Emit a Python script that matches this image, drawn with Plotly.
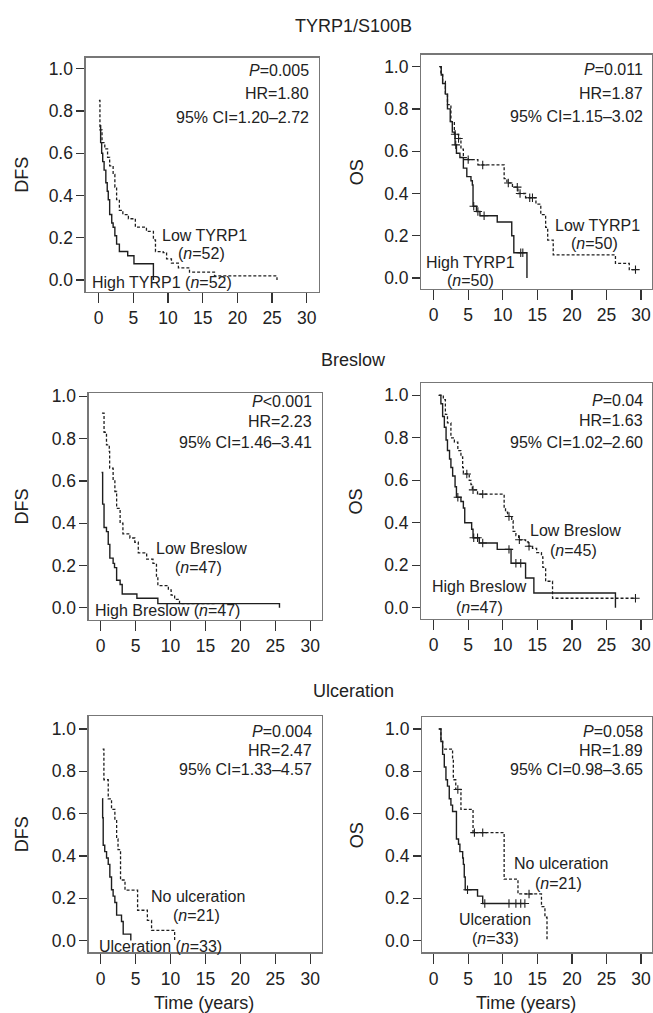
import numpy as np
import plotly.graph_objects as go

# ---------------- data ----------------
# Panel 1: DFS, TYRP1/S100B
p1_high_t = [0.2, 0.3, 0.45, 0.6, 0.8, 1.05, 1.25, 1.4, 1.6, 1.9, 2.1, 2.35, 2.6, 3.0, 4.2, 5.1, 7.9]
p1_high_s = [0.73, 0.65, 0.60, 0.56, 0.52, 0.46, 0.42, 0.38, 0.31, 0.27, 0.25, 0.21, 0.17, 0.135, 0.115, 0.077, 0.0]
p1_high_c = []
p1_low_t = [0.05, 0.2, 0.5, 0.9, 1.3, 1.6, 2.1, 2.35, 2.6, 3.0, 3.5, 4.3, 5.3, 6.9, 7.9, 8.2, 9.3, 9.8, 10.5, 11.5, 13.1, 16.7, 25.7]
p1_low_s = [0.85, 0.71, 0.65, 0.62, 0.58, 0.54, 0.50, 0.44, 0.38, 0.33, 0.31, 0.29, 0.25, 0.23, 0.19, 0.135, 0.13, 0.10, 0.08, 0.058, 0.038, 0.02, 0.0]
p1_low_c = []

# Panel 2: OS, TYRP1/S100B
p2_high_t = [0.8, 1.1, 1.3, 1.7, 2.0, 2.4, 2.7, 3.1, 3.3, 3.8, 4.3, 4.8, 5.4, 5.6, 5.7, 6.2, 6.7, 9.2, 11.3, 11.6, 13.5]
p2_high_s = [1.0, 0.96, 0.92, 0.87, 0.80, 0.74, 0.69, 0.63, 0.59, 0.57, 0.52, 0.48, 0.46, 0.44, 0.34, 0.315, 0.295, 0.265, 0.20, 0.12, 0.0]
p2_high_c = [3.2, 5.8, 6.4, 7.3, 12.6, 12.9]
p2_low_t = [0.9, 1.05, 1.3, 1.7, 2.0, 2.5, 3.0, 3.6, 3.95, 4.3, 5.0, 6.4, 10.2, 10.6, 11.4, 12.2, 13.3, 14.8, 15.5, 16.2, 16.5, 17.3, 26.3, 28.3, 29.2]
p2_low_s = [1.0, 0.97, 0.93, 0.87, 0.82, 0.74, 0.68, 0.66, 0.61, 0.57, 0.56, 0.535, 0.47, 0.45, 0.43, 0.40, 0.38, 0.35, 0.30, 0.24, 0.18, 0.11, 0.07, 0.04, 0.04]
p2_low_c = [3.1, 3.6, 5.0, 7.1, 10.8, 12.1, 12.5, 13.9, 14.3, 29.2]

# Panel 3: DFS, Breslow
p3_high_t = [0.15, 0.3, 0.5, 0.85, 1.1, 1.33, 1.8, 2.0, 2.3, 2.8, 3.1, 5.2, 8.2, 25.6]
p3_high_s = [0.64, 0.49, 0.38, 0.36, 0.30, 0.235, 0.21, 0.19, 0.13, 0.11, 0.065, 0.045, 0.02, 0.0]
p3_high_c = []
p3_low_t = [0.2, 0.5, 0.85, 1.25, 1.3, 1.8, 2.05, 2.3, 2.8, 3.2, 4.2, 4.9, 5.4, 6.6, 7.5, 8.0, 8.2, 9.7, 10.1, 10.6, 11.3, 16.5]
p3_low_s = [0.92, 0.83, 0.77, 0.74, 0.66, 0.60, 0.55, 0.47, 0.40, 0.35, 0.33, 0.31, 0.26, 0.23, 0.21, 0.15, 0.105, 0.085, 0.06, 0.04, 0.02, 0.02]
p3_low_c = []

# Panel 4: OS, Breslow
p4_high_t = [0.8, 1.05, 1.3, 1.55, 1.8, 2.0, 2.3, 2.5, 2.75, 3.1, 3.3, 3.95, 4.3, 4.5, 5.5, 5.7, 6.6, 9.2, 11.2, 13.3, 14.5, 26.3]
p4_high_s = [1.0, 0.96, 0.90, 0.85, 0.79, 0.74, 0.70, 0.66, 0.62, 0.57, 0.52, 0.50, 0.47, 0.40, 0.37, 0.33, 0.305, 0.275, 0.21, 0.14, 0.07, 0.0]
p4_high_c = [3.5, 5.8, 6.35, 7.1, 10.9, 11.9, 12.6]
p4_low_t = [0.7, 1.4, 1.7, 2.0, 2.5, 3.0, 3.5, 3.95, 4.2, 4.3, 5.15, 5.4, 5.6, 6.35, 10.2, 10.4, 10.7, 11.3, 11.5, 11.9, 12.3, 13.3, 13.7, 14.3, 14.9, 15.6, 15.8, 16.2, 17.2, 29.2]
p4_low_s = [1.0, 0.98, 0.91, 0.87, 0.80, 0.78, 0.74, 0.71, 0.66, 0.63, 0.60, 0.58, 0.555, 0.535, 0.47, 0.45, 0.43, 0.41, 0.36, 0.34, 0.32, 0.31, 0.29, 0.28, 0.26, 0.24, 0.19, 0.125, 0.045, 0.045]
p4_low_c = [4.8, 5.7, 7.1, 10.9, 12.4, 13.8, 29.2]

# Panel 5: DFS, Ulceration
p5_high_t = [0.24, 0.3, 0.38, 0.6, 0.86, 1.1, 1.33, 1.57, 1.8, 2.05, 2.3, 3.0, 3.24, 4.33]
p5_high_s = [0.67, 0.58, 0.45, 0.42, 0.39, 0.36, 0.30, 0.24, 0.21, 0.18, 0.12, 0.09, 0.03, 0.0]
p5_high_c = []
p5_low_t = [0.3, 0.48, 1.1, 1.57, 2.05, 2.3, 2.5, 2.86, 3.5, 5.3, 6.7, 7.3, 10.6]
p5_low_s = [0.905, 0.76, 0.67, 0.62, 0.57, 0.48, 0.43, 0.286, 0.238, 0.143, 0.095, 0.048, 0.0]
p5_low_c = []

# Panel 6: OS, Ulceration
p6_high_t = [0.72, 1.06, 1.3, 1.54, 1.78, 2.0, 2.26, 2.5, 2.74, 3.3, 3.6, 3.8, 4.2, 4.3, 4.43, 4.57, 6.35, 7.1, 13.2]
p6_high_s = [1.0, 0.94, 0.88, 0.82, 0.76, 0.73, 0.67, 0.64, 0.61, 0.48, 0.455, 0.42, 0.39, 0.36, 0.30, 0.24, 0.21, 0.175, 0.175]
p6_high_c = [4.9, 7.4, 10.9, 11.9, 12.6, 13.2]
p6_low_t = [0.8, 1.05, 1.3, 2.74, 2.85, 3.2, 3.95, 5.7, 10.2, 12.2, 15.6, 16.1, 16.4]
p6_low_s = [1.0, 0.95, 0.905, 0.86, 0.76, 0.714, 0.62, 0.51, 0.29, 0.22, 0.16, 0.11, 0.0]
p6_low_c = [3.5, 5.9, 7.1, 13.8]

section_titles = ["TYRP1/S100B", "Breslow", "Ulceration"]
y_titles = ["DFS", "OS", "DFS", "OS", "DFS", "OS"]
stats_p = ["<i>P</i>=0.005", "<i>P</i>=0.011", "<i>P</i><0.001", "<i>P</i>=0.04", "<i>P</i>=0.004", "<i>P</i>=0.058"]
stats_hr = ["HR=1.80", "HR=1.87", "HR=2.23", "HR=1.63", "HR=2.47", "HR=1.89"]
stats_ci = ["95% CI=1.20–2.72", "95% CI=1.15–3.02", "95% CI=1.46–3.41",
            "95% CI=1.02–2.60", "95% CI=1.33–4.57", "95% CI=0.98–3.65"]
x_ticks = [0, 5, 10, 15, 20, 25, 30]
y_ticks = [0.0, 0.2, 0.4, 0.6, 0.8, 1.0]
y_ticktext = ["0.0", "0.2", "0.4", "0.6", "0.8", "1.0"]

panels = [
    (p1_high_t, p1_high_s, p1_high_c, p1_low_t, p1_low_s, p1_low_c),
    (p2_high_t, p2_high_s, p2_high_c, p2_low_t, p2_low_s, p2_low_c),
    (p3_high_t, p3_high_s, p3_high_c, p3_low_t, p3_low_s, p3_low_c),
    (p4_high_t, p4_high_s, p4_high_c, p4_low_t, p4_low_s, p4_low_c),
    (p5_high_t, p5_high_s, p5_high_c, p5_low_t, p5_low_s, p5_low_c),
    (p6_high_t, p6_high_s, p6_high_c, p6_low_t, p6_low_s, p6_low_c),
]

# curve labels: (text, x, y, xanchor)
curve_labels = [
    [("Low TYRP1", 8.8, 0.21, "left"), ("(<i>n</i>=52)", 14.9, 0.127, "center"),
     ("High TYRP1 (<i>n</i>=52)", -1.3, -0.01, "left")],
    [("Low TYRP1", 17.2, 0.25, "left"), ("(<i>n</i>=50)", 23.3, 0.164, "center"),
     ("High TYRP1", 5.3, 0.075, "center"), ("(<i>n</i>=50)", 5.3, -0.01, "center")],
    [("Low Breslow", 7.6, 0.28, "left"), ("(<i>n</i>=47)", 14.0, 0.19, "center"),
     ("High Breslow (<i>n</i>=47)", -1.1, -0.015, "left")],
    [("Low Breslow", 13.7, 0.365, "left"), ("(<i>n</i>=45)", 20.2, 0.27, "center"),
     ("High Breslow", 6.6, 0.10, "center"), ("(<i>n</i>=47)", 6.6, 0.0, "center")],
    [("No ulceration", 7.0, 0.21, "left"), ("(<i>n</i>=21)", 13.8, 0.117, "center"),
     ("Ulceration (<i>n</i>=33)", -0.5, -0.03, "left")],
    [("No ulceration", 11.4, 0.365, "left"), ("(<i>n</i>=21)", 18.0, 0.27, "center"),
     ("Ulceration", 8.9, 0.10, "center"), ("(<i>n</i>=33)", 8.9, 0.01, "center")],
]
stat_y = [(0.99, 0.88, 0.77), (0.986, 0.873, 0.765), (0.977, 0.88, 0.78),
          (0.977, 0.88, 0.78), (0.986, 0.897, 0.807), (0.986, 0.897, 0.807)]

# ---------------- layout geometry (pixels) ----------------
W, H = 653, 1013
# plot boxes: left, right, top, bottom
boxes = [(86, 319, 51, 287), (422, 653, 48, 284), (89, 322, 389, 617),
         (422, 653, 379, 616), (89, 322, 714, 952), (423, 653, 715, 952)]
# pixel position of x=0 / x=30 ticks and y=0 / y=1 ticks per panel
xt_px = [(98.7, 307.3), (434.3, 642.0), (100.7, 310.7), (434.3, 642.0), (100.7, 310.7), (434.3, 642.0)]
yt_px = [(275, 62), (273, 60), (605, 392), (605, 391), (940, 727), (940, 727)]
FONT = "Liberation Sans, Arial, Helvetica, sans-serif"
INK = "#1e1e1e"

fig = go.Figure()


def step_at(ts, ss, t):
    ts = np.asarray(ts)
    ss = np.asarray(ss)
    idx = np.searchsorted(ts, t, side="right") - 1
    return ss[np.clip(idx, 0, len(ss) - 1)]


annotations = []
layout_axes = {}
for i, (ht, hs, hc, lt, ls, lc) in enumerate(panels):
    n = i + 1
    xa = "x" if n == 1 else f"x{n}"
    ya = "y" if n == 1 else f"y{n}"
    fig.add_trace(go.Scatter(x=lt, y=ls, mode="lines", line_shape="hv",
                             line=dict(color=INK, width=1.3, dash="3px,2px"),
                             xaxis=xa, yaxis=ya, showlegend=False, hoverinfo="skip"))
    fig.add_trace(go.Scatter(x=ht, y=hs, mode="lines", line_shape="hv",
                             line=dict(color=INK, width=1.4),
                             xaxis=xa, yaxis=ya, showlegend=False, hoverinfo="skip"))
    for cens, tt, ss in ((lc, lt, ls), (hc, ht, hs)):
        if len(cens):
            fig.add_trace(go.Scatter(x=cens, y=[float(step_at(tt, ss, c)) for c in cens],
                                     mode="markers",
                                     marker=dict(symbol="cross-thin", size=6, color=INK,
                                                 line=dict(width=1.1, color=INK)),
                                     xaxis=xa, yaxis=ya, showlegend=False, hoverinfo="skip"))
    x0, x1, yt, yb = boxes[i]
    ax0, ax30 = xt_px[i]
    ppx = (ax30 - ax0) / 30.0
    ay0, ay1 = yt_px[i]
    ppy = ay0 - ay1
    xr = [(x0 - ax0) / ppx, (x1 - ax0) / ppx]
    yr = [(ay0 - yb) / ppy, (ay0 - yt) / ppy]
    axkey = "xaxis" if n == 1 else f"xaxis{n}"
    aykey = "yaxis" if n == 1 else f"yaxis{n}"
    layout_axes[axkey] = dict(
        domain=[x0 / W, x1 / W], range=xr, anchor=ya,
        tickvals=x_ticks, ticks="outside", ticklen=10, tickwidth=1.3, tickcolor="#333",
        showline=True, mirror=True, linecolor="#777", linewidth=1.4,
        showgrid=False, zeroline=False,
        tickfont=dict(family=FONT, size=17.5, color="#222"))
    layout_axes[aykey] = dict(
        domain=[1 - yb / H, 1 - yt / H], range=yr, anchor=xa,
        tickvals=y_ticks, ticktext=y_ticktext, ticks="outside", ticklen=8, tickwidth=1.3,
        tickcolor="#333", showline=True, mirror=True, linecolor="#777", linewidth=1.4,
        showgrid=False, zeroline=False,
        tickfont=dict(family=FONT, size=17.5, color="#222"))
    # stats
    for txt, yy in zip((stats_p[i], stats_hr[i], stats_ci[i]), stat_y[i]):
        annotations.append(dict(x=30.55, y=yy, xref=xa, yref=ya, text=txt, showarrow=False,
                                xanchor="right", yanchor="middle",
                                font=dict(family=FONT, size=16, color="#222")))
    for txt, xx, yy, anc in curve_labels[i]:
        annotations.append(dict(x=xx, y=yy, xref=xa, yref=ya, text=txt, showarrow=False,
                                xanchor=anc, yanchor="middle",
                                font=dict(family=FONT, size=16, color="#222")))
    # y-axis title
    ycen = (yt + yb) / 2
    xpos = 22 if i % 2 == 0 else 357
    annotations.append(dict(x=xpos / W, y=1 - ycen / H, xref="paper", yref="paper",
                            text=y_titles[i], textangle=-90, showarrow=False,
                            xanchor="center", yanchor="middle",
                            font=dict(family=FONT, size=18, color="#222")))

# section titles
for txt, ypx in zip(section_titles, (19, 355, 689)):
    annotations.append(dict(x=354 / W, y=1 - ypx / H, xref="paper", yref="paper",
                            text=txt, showarrow=False, xanchor="center", yanchor="middle",
                            font=dict(family=FONT, size=18, color="#222")))
# x-axis titles
for xpx in (204, 527):
    annotations.append(dict(x=xpx / W, y=1 - 1003 / H, xref="paper", yref="paper",
                            text="Time (years)", showarrow=False, xanchor="center",
                            yanchor="middle", font=dict(family=FONT, size=18, color="#222")))

fig.update_layout(width=W, height=H, margin=dict(l=0, r=0, t=0, b=0),
                  paper_bgcolor="white", plot_bgcolor="white",
                  annotations=annotations, **layout_axes)

fig.write_html("out.html", config={"displayModeBar": False, "staticPlot": True},
               post_script="document.body.style.margin='0';document.body.style.padding='0';"
                           "document.documentElement.style.overflow='hidden';")
